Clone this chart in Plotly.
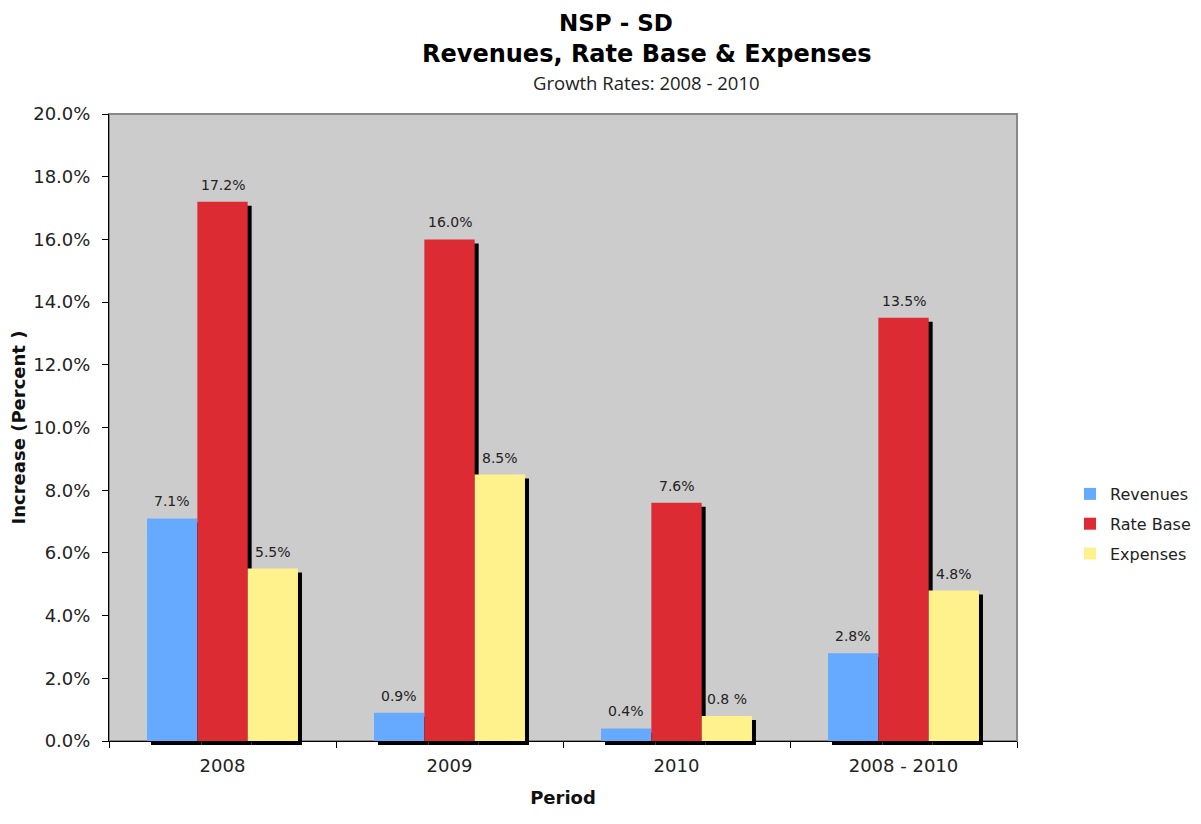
import plotly.graph_objects as go

categories = ["2008", "2009", "2010", "2008 - 2010"]
revenues = [7.1, 0.9, 0.4, 2.8]
rate_base = [17.2, 16.0, 7.6, 13.5]
expenses = [5.5, 8.5, 0.8, 4.8]
revenues_labels = ["7.1%", "0.9%", "0.4%", "2.8%"]
rate_base_labels = ["17.2%", "16.0%", "7.6%", "13.5%"]
expenses_labels = ["5.5%", "8.5%", "0.8 %", "4.8%"]
series_names = ["Revenues", "Rate Base", "Expenses"]
y_ticks = [0, 2, 4, 6, 8, 10, 12, 14, 16, 18, 20]
y_tick_text = ["%.1f%%" % v for v in y_ticks]

colors = ["#66AAFF", "#DD2B33", "#FFF28C"]
series_vals = [revenues, rate_base, expenses]
series_labels = [revenues_labels, rate_base_labels, expenses_labels]

OFF = 8  # default page body margin
W, H = 1201 - OFF, 824 - OFF
# plot area in screen px (incl. shadow shift), converted to figure px
L, R_EDGE, T, B_EDGE = 109 - OFF, 1021 - OFF, 114 - OFF, 745 - OFF
SH = 4  # shadow offset px
PW = R_EDGE - L
PH = B_EDGE - T

fig = go.Figure()

# shadows (drawn first, on offset axes)
for vals, name in zip(series_vals, series_names):
    fig.add_trace(go.Bar(x=categories, y=vals, name=name, marker=dict(color="black", line=dict(width=0)),
                         xaxis="x", yaxis="y", showlegend=False, hoverinfo="skip"))

# main bars
for vals, name, col in zip(series_vals, series_names, colors):
    fig.add_trace(go.Bar(x=categories, y=vals, name=name, marker=dict(color=col, line=dict(width=0)),
                         xaxis="x2", yaxis="y2", legendgroup=name))

bar_px = (PW - SH) / 4 * (1 - 0.335) / 3
annotations = []
for i, (vals, labs) in enumerate(zip(series_vals, series_labels)):
    for j, (v, t) in enumerate(zip(vals, labs)):
        annotations.append(dict(x=j, y=v, xref="x2", yref="y2", text=t, showarrow=False,
                                xshift=(i - 1) * bar_px, yshift=17, yanchor="middle",
                                font=dict(family="DejaVu Sans", size=14, color="#222222")))

def px_x(px):
    return (px - OFF - L) / PW

def px_y(py):
    return (B_EDGE - (py - OFF)) / PH

annotations += [
    dict(x=px_x(616), y=px_y(23), xref="paper", yref="paper", text="NSP - SD", showarrow=False,
         xanchor="center", yanchor="middle", font=dict(family="DejaVu Sans", size=23, color="black", weight="bold")),
    dict(x=px_x(647), y=px_y(54), xref="paper", yref="paper", text="Revenues, Rate Base &amp; Expenses", showarrow=False,
         xanchor="center", yanchor="middle", font=dict(family="DejaVu Sans", size=24, color="black", weight="bold")),
    dict(x=px_x(646), y=px_y(82), xref="paper", yref="paper", text="Growth Rates: 2008 - 2010", showarrow=False,
         xanchor="center", yanchor="middle", font=dict(family="Open Sans", size=18.5, color="#222222")),
]

fig.update_layout(
    width=W, height=H,
    margin=dict(l=L, r=W - R_EDGE, t=T, b=H - B_EDGE, autoexpand=False),
    paper_bgcolor="white",
    plot_bgcolor="rgba(0,0,0,0)",
    barmode="group", bargap=0.335, bargroupgap=0,
    xaxis=dict(domain=[SH / PW, 1], anchor="y", type="category", range=[-0.5, 3.5], visible=False,
               automargin=False),
    yaxis=dict(domain=[0, (PH - SH) / PH], anchor="x", range=[0, 20], visible=False, automargin=False),
    xaxis2=dict(domain=[0, (PW - SH) / PW], anchor="y2", type="category", range=[-0.5, 3.5],
                automargin=False,
                showline=True, linecolor="black", linewidth=1,
                ticks="outside", ticklen=6, tickcolor="black", tickson="boundaries",
                showgrid=False, zeroline=False,
                tickfont=dict(family="DejaVu Sans", size=18, color="#222222"),
                ticklabelstandoff=8,
                title=dict(text="Period", standoff=16,
                           font=dict(family="DejaVu Sans", size=18, color="#111111", weight="bold"))),
    yaxis2=dict(domain=[SH / PH, 1], anchor="x2", range=[0, 20], automargin=False,
                tickvals=y_ticks, ticktext=y_tick_text,
                showline=True, linecolor="black", linewidth=1,
                ticks="outside", ticklen=6, tickcolor="black",
                showgrid=False, zeroline=False,
                tickfont=dict(family="DejaVu Sans", size=18, color="#222222"),
                ticklabelstandoff=8,
                title=dict(text="Increase (Percent )", standoff=2,
                           font=dict(family="DejaVu Sans", size=18, color="#111111", weight="bold"))),
    legend=dict(x=px_x(1070), y=px_y(524), xanchor="left", yanchor="middle",
                font=dict(family="DejaVu Sans", size=16, color="#222222"),
                tracegroupgap=6, bgcolor="rgba(0,0,0,0)"),
    shapes=[dict(type="rect", xref="x2 domain", yref="y2 domain", x0=0, x1=1, y0=0, y1=1,
                 fillcolor="#CCCCCC", line=dict(color="#888888", width=2), layer="below")],
    annotations=annotations,
    showlegend=True,
)

fig.write_html("out.html")
